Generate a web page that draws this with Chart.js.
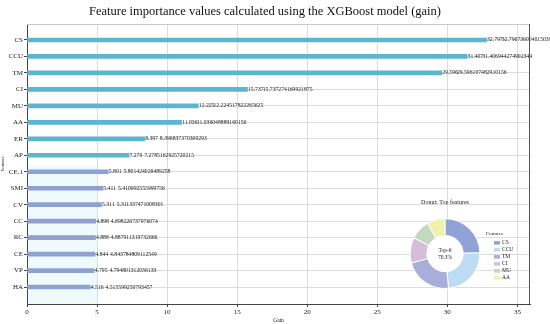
<!DOCTYPE html>
<html>
<head>
<meta charset="utf-8">
<script src="https://cdn.jsdelivr.net/npm/chart.js"></script>
<style>
  html, body { margin: 0; padding: 0; background: #fff; }
  #wrap { position: relative; width: 550px; height: 324px; }
  #main { position: absolute; left: 0; top: 0; }
  #donut { position: absolute; left: 390px; top: 196px; }
</style>
</head>
<body>
<div id="wrap">
  <canvas id="main" width="550" height="324"></canvas>
  <canvas id="donut" width="160" height="93"></canvas>
</div>
<script>
// datos
const features = ['CS', 'CCU', 'TM', 'CI', 'MU', 'AA', 'ER', 'AP', 'CE.1', 'SMI', 'CV', 'CC', 'RC', 'CE', 'VP', 'HA'];
const gain = [32.797, 31.407, 29.596, 15.737, 12.225, 11.036, 8.397, 7.279, 5.801, 5.411, 5.311, 4.898, 4.888, 4.844, 4.795, 4.516];
const gainFull = ['32.79673600461503906', '31.406944274902344', '29.596107482910156', '15.737274169921875',
  '12.224517822265625', '11.036048889160156', '8.396837370300293', '7.2785162925720215',
  '5.801424026489258', '5.410992555999756', '5.311337471008301', '4.898226737976074',
  '4.887911319732666', '4.843784809112549', '4.794801312036133', '4.515599250793457'];
const topN = 6;
const xTicksMax = 35;

const SERIF = '"Liberation Serif", "DejaVu Serif", serif';
const colTop = '#5db5cf';
const colLow = '#8ea1d3';
const donutColors = ['#8fa3d6', '#bcdcf4', '#a9add9', '#d6bdd8', '#c3d8c1', '#eef2ab'];

const barColors = gain.map((v, i) => i < 8 ? colTop : colLow);
const points = gain.map((v, i) => ({ x: v, y: i }));

// banda cian palida detras de las barras bajas + marco
const bandPlugin = {
  id: 'band',
  beforeDraw(chart) {
    const { ctx, scales: { x, y }, chartArea } = chart;
    ctx.save();
    ctx.fillStyle = '#effafc';
    const x0 = x.getPixelForValue(0), x1 = x.getPixelForValue(5);
    const y0 = y.getPixelForValue(7.65);
    ctx.fillRect(x0, y0, x1 - x0, chartArea.bottom - y0);
    ctx.restore();
  },
  afterDraw(chart) {
    const { ctx, chartArea: a } = chart;
    ctx.save();
    ctx.lineWidth = 1;
    ctx.strokeStyle = '#c8c8c8';
    ctx.beginPath(); ctx.moveTo(a.left, a.top + 0.5); ctx.lineTo(a.right, a.top + 0.5); ctx.stroke();
    ctx.strokeStyle = '#555';
    ctx.beginPath(); ctx.moveTo(a.right - 0.5, a.top); ctx.lineTo(a.right - 0.5, a.bottom); ctx.stroke();
    ctx.restore();
  }
};

// etiquetas al final de cada barra (valor redondeado + valor completo)
const labelPlugin = {
  id: 'barLabels',
  afterDatasetsDraw(chart) {
    const { ctx } = chart;
    const meta = chart.getDatasetMeta(0);
    ctx.save();
    ctx.font = '5.7px ' + SERIF;
    ctx.fillStyle = '#222';
    ctx.textBaseline = 'middle';
    const off = ctx.measureText('0.000 ').width + 0.5;
    meta.data.forEach((bar, i) => {
      ctx.fillText(gain[i].toFixed(3), bar.x + 0.5, bar.y);
      ctx.fillText(gainFull[i], bar.x + 0.5 + off, bar.y);
    });
    ctx.restore();
  }
};

new Chart(document.getElementById('main'), {
  type: 'bar',
  data: {
    datasets: [{
      data: points,
      backgroundColor: barColors,
      barThickness: 4,
      borderWidth: 0
    }]
  },
  options: {
    indexAxis: 'y',
    responsive: false,
    animation: false,
    layout: { padding: { top: 0, right: 20, left: 0, bottom: 0 } },
    plugins: {
      legend: { display: false },
      tooltip: { enabled: false },
      title: {
        display: true,
        text: 'Feature importance values calculated using the XGBoost model (gain)',
        color: '#111',
        font: { family: SERIF, size: 12.5, weight: 'normal' },
        padding: { top: 4, bottom: 5 }
      }
    },
    scales: {
      x: {
        type: 'linear',
        min: 0,
        max: 35.9,
        afterFit(s) { s.height = 20; s.paddingLeft = 0; s.paddingRight = 0; },
        afterBuildTicks(s) {
          const t = [];
          for (let v = 0; v <= xTicksMax; v += 5) t.push({ value: v });
          s.ticks = t;
        },
        ticks: { color: '#222', font: { family: SERIF, size: 7 }, padding: 1, maxRotation: 0 },
        grid: { color: '#dcdcdc', tickColor: '#444', tickLength: 3 },
        border: { color: '#444' },
        title: { display: true, text: 'Gain', color: '#222', font: { family: SERIF, size: 5.5 }, padding: 0 }
      },
      y: {
        type: 'linear',
        reverse: true,
        offset: false,
        min: -0.97,
        max: 16.03,
        afterFit(s) { s.width = 27; s.paddingTop = 0; s.paddingBottom = 0; },
        afterBuildTicks(s) {
          s.ticks = features.map((f, i) => ({ value: i }));
        },
        ticks: {
          color: '#222',
          font: { family: SERIF, size: 7 },
          padding: 1,
          callback: (v) => features[v]
        },
        grid: { color: '#dcdcdc', tickColor: '#444', tickLength: 3, offset: false },
        border: { color: '#444' },
        title: { display: true, text: 'Features', color: '#333', font: { family: SERIF, size: 4.5 }, padding: 0 }
      }
    }
  },
  plugins: [bandPlugin, labelPlugin]
});

// dona con las principales variables
const topLabels = features.slice(0, topN);
const topValues = gain.slice(0, topN);
const share = topValues.reduce((a, b) => a + b, 0) / gain.reduce((a, b) => a + b, 0) * 100;

const centerPlugin = {
  id: 'center',
  beforeDatasetsDraw(chart) {
    const arc = chart.getDatasetMeta(0).data[0];
    if (!arc) return;
    const { ctx } = chart;
    ctx.save();
    ctx.fillStyle = '#fff';
    ctx.beginPath();
    ctx.arc(arc.x, arc.y, arc.innerRadius, 0, Math.PI * 2);
    ctx.fill();
    ctx.restore();
  },
  afterDatasetsDraw(chart) {
    const arc = chart.getDatasetMeta(0).data[0];
    const { ctx } = chart;
    const ds = chart.data.datasets[0];
    ctx.save();
    ctx.font = '5.5px ' + SERIF;
    ctx.fillStyle = '#222';
    ctx.textAlign = 'center';
    ctx.textBaseline = 'middle';
    ctx.fillText('Top-' + topN, arc.x, arc.y - 3.5);
    ctx.fillText(share.toFixed(1) + '%', arc.x, arc.y + 3.5);

    // leyenda propia a la derecha de la dona
    const lx = arc.x + 53;
    ctx.textAlign = 'left';
    ctx.font = '5px ' + SERIF;
    ctx.fillText('Features', lx - 12, arc.y - 20);
    ctx.font = '5.5px ' + SERIF;
    chart.data.labels.forEach((lab, i) => {
      const ly = arc.y - 11 + i * 7;
      ctx.fillStyle = ds.backgroundColor[i];
      ctx.fillRect(lx - 4, ly - 1.5, 6, 3.5);
      ctx.fillStyle = '#222';
      ctx.fillText(lab, lx + 4, ly);
    });
    ctx.restore();
  }
};

new Chart(document.getElementById('donut'), {
  type: 'doughnut',
  data: {
    labels: topLabels,
    datasets: [{
      data: topValues,
      backgroundColor: donutColors,
      borderColor: '#fff',
      borderWidth: 1
    }]
  },
  options: {
    responsive: false,
    animation: false,
    cutout: '52%',
    layout: { padding: { right: 50 } },
    plugins: {
      tooltip: { enabled: false },
      legend: { display: false },
      title: {
        display: true,
        fullSize: false,
        text: 'Donut: Top features',
        color: '#222',
        font: { family: SERIF, size: 6, weight: 'normal' },
        padding: { top: 3, bottom: 12 }
      }
    }
  },
  plugins: [centerPlugin]
});
</script>
</body>
</html>
